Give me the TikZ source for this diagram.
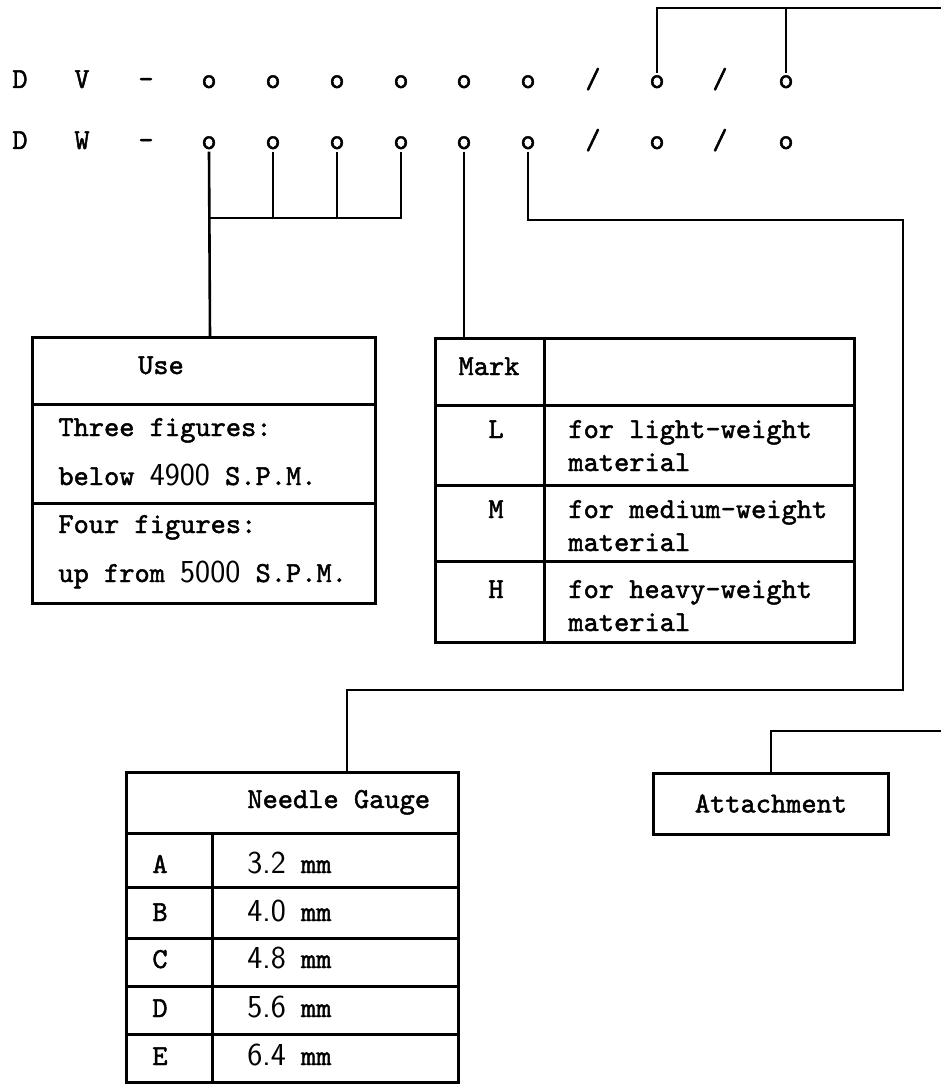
\documentclass[tikz,border=0pt]{standalone}
\usepackage{fontspec}
\usetikzlibrary{positioning}
\newfontfamily\tyfam{lmmono10-regular.otf}[FakeBold=1.6]
\newcommand{\tyfont}{\tyfam\fontsize{14.5}{17}\selectfont}
\newcommand{\dg}[1]{{\sffamily\fontsize{16}{17}\selectfont #1}}
\tikzset{
		>=stealth,
		ch/.style={anchor=base, inner sep=1pt, font=\tyfont},
		txt/.style={anchor=base west, inner sep=0pt, font=\tyfont},
		ctxt/.style={anchor=base, inner sep=0pt, font=\tyfont},
		ln/.style={line width=1.3pt},
		box/.style={line width=1.5pt}
	}

\begin{document}
\begin{tikzpicture}[x=0.5pt, y=-0.5pt]
\useasboundingbox (0,0) rectangle (941,1085);
\foreach \r/\y/\l in {v/88/V, w/149/W}
	\foreach \c/\x [count=\i] in {D/20, \l/82, -/146, o/209, o/273, o/337, o/401, o/464, o/528, \slash/593, o/657, \slash/720, o/786}
		\node[ch] (\r\i) at (\x,\y) {\c};
\coordinate (bus) at (0,218);
\coordinate (turn1) at (903,220);
\coordinate (turn2) at (903,690);
\coordinate (topline) at (941,8);
\coordinate (attline) at (941,731);
\coordinate (use) at (210,337);
\coordinate (mark) at (464,338);
\coordinate (gauge) at (347,772);

\draw[box] (32,337) rectangle (375,603);
\draw[box] (32,404) -- (375,404) (32,503) -- (375,503);
\node[ctxt] (usehd) at (161,374) {Use};
\node[txt] (use1) at (58,436) {Three figures:};
\node[txt] (use2) at (58,485) {below \dg{4900} S.P.M.};
\node[txt] (use3) at (58,533) {Four figures:};
\node[txt] (use4) at (58,582) {up from \dg{5000} S.P.M.};

\draw[box] (435,338) rectangle (854,642);
\draw[box] (544,338) -- (544,642);
\foreach \y in {405, 485, 561}
	\draw[box] (435,\y) -- (854,\y);
\node[ctxt] (markhd) at (489,375) {Mark};
\foreach \m/\w/\y in {L/light/438, M/medium/518, H/heavy/598} {
	\node[ctxt] (mk\m) at (496,\y) {\m};
	\node[txt] (for\m) at (568,\y) {for \w-weight};
	\node[txt] (mat\m) at (568,\y+33) {material};
}

\draw[box] (126,772) rectangle (458,1082);
\draw[box] (126,833) -- (458,833);
\draw[box] (212,833) -- (212,1082);
\foreach \y in {887, 938, 986, 1034}
	\draw[box] (126,\y) -- (458,\y);
\node[txt] (gaugehd) at (247,808) {Needle Gauge};
\foreach \g/\v/\y in {A/3.2/873, B/4.0/921, C/4.8/968, D/5.6/1017, E/6.4/1065} {
	\node[ctxt] (g\g) at (160,\y) {\g};
	\node[txt] (mm\g) at (247,\y) {\dg{\v} mm};
}

\node[draw, box, font=\tyfont, minimum width=117.5pt, minimum height=30.5pt] (attach) at (771,803.5) {Attachment};

\draw[ln] (w4.south) -- (use);
\draw[ln] (w5.south) -- (w5 |- bus);
\draw[ln] (w6.south) -- (w6 |- bus);
\draw[ln] (w7.south) |- (w4 |- bus);
\draw[ln] (w8.south) -- (mark);
\draw[ln] (w9.south) |- (turn1) -- (turn2) -| (gauge);
\draw[ln] (v11.north) |- (topline);
\draw[ln] (v13.north) -- (v13 |- topline);
\draw[ln] (attline) -| (attach);
\end{tikzpicture}
\end{document}
